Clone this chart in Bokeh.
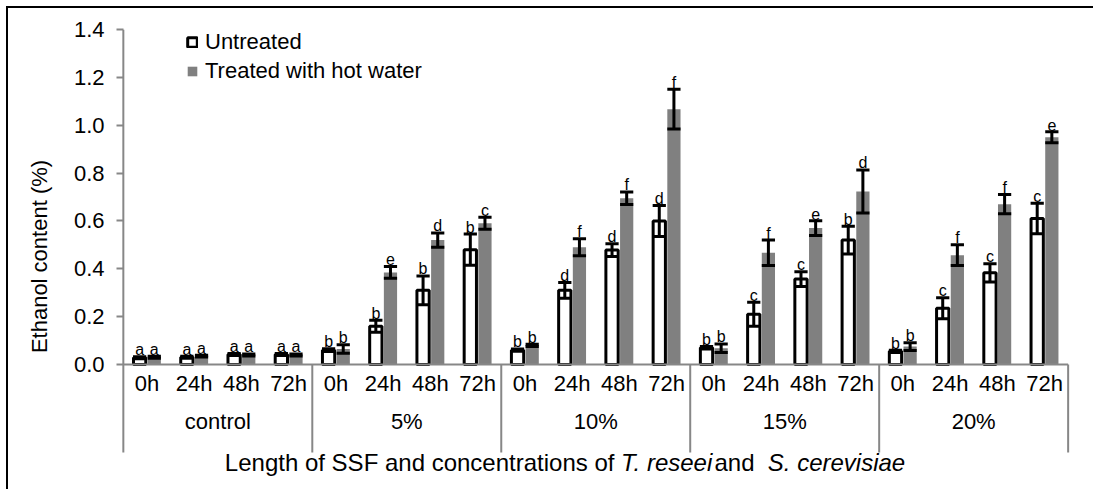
from bokeh.plotting import figure
from bokeh.models import (ColumnDataSource, Range1d, FixedTicker, PrintfTickFormatter, Legend,
                          LegendItem, InlineStyleSheet)
from bokeh.core.properties import value
from bokeh.embed import file_html
from bokeh.resources import INLINE

# ---------------- data ----------------
groups = ["control", "5%", "10%", "15%", "20%"]
times = ["0h", "24h", "48h", "72h"]
series_names = ["Untreated", "Treated with hot water"]

untreated = [0.028, 0.030, 0.042, 0.042,
             0.060, 0.160, 0.310, 0.480,
             0.060, 0.310, 0.478, 0.600,
             0.070, 0.210, 0.357, 0.520,
             0.055, 0.235, 0.383, 0.610]
untreated_err = [0.004, 0.004, 0.004, 0.004,
                 0.006, 0.025, 0.060, 0.065,
                 0.005, 0.033, 0.027, 0.065,
                 0.005, 0.050, 0.031, 0.058,
                 0.005, 0.044, 0.038, 0.064]
untreated_letters = ["a", "a", "a", "a", "b", "b", "b", "b", "b", "d",
                     "d", "d", "b", "c", "c", "b", "b", "c", "c", "c"]

treated = [0.030, 0.035, 0.040, 0.040,
           0.065, 0.385, 0.520, 0.590,
           0.080, 0.490, 0.695, 1.067,
           0.068, 0.467, 0.570, 0.723,
           0.075, 0.457, 0.670, 0.950]
treated_err = [0.004, 0.004, 0.004, 0.004,
               0.018, 0.025, 0.030, 0.025,
               0.005, 0.036, 0.026, 0.083,
               0.018, 0.053, 0.031, 0.090,
               0.016, 0.043, 0.040, 0.023]
treated_letters = ["a", "a", "a", "a", "b", "e", "d", "c", "b", "f",
                   "f", "f", "b", "f", "e", "d", "b", "f", "f", "e"]

y_ticks = [0.0, 0.2, 0.4, 0.6, 0.8, 1.0, 1.2, 1.4]
y_title = "Ethanol content (%)"
x_title_parts = [("Length of SSF and concentrations of ", "normal"),
                 ("T. reseei", "italic"),
                 (" and ", "normal"),
                 ("S. cerevisiae", "italic")]

# ---------------- style ----------------
FONT = "Liberation Sans"
AXIS_GRAY = "#878787"
BAR_GRAY = "#808080"
LABEL_SIZE = 22
TITLE_SIZE = 24
LETTER_SIZE = "16px"

n_t = len(times)
n_cat = len(groups) * n_t
xc = [i + 0.5 for i in range(n_cat)]
OFF = 0.155
BW = 0.28

y_axis_bottom = -0.3678
y_frame_bottom = -0.4973
border_css = InlineStyleSheet(css=":host { box-shadow: inset 6px 6px 0 0 #ffffff, inset 8px 8px 0 0 #000000; }")
p = figure(width=1093, height=489,
           x_range=Range1d(-0.06, n_cat + 0.05), y_range=Range1d(y_frame_bottom, y_ticks[-1]),
           output_backend="svg", toolbar_location=None, x_axis_location=None,
           min_border_left=120, min_border_right=23, min_border_top=29, min_border_bottom=6,
           stylesheets=[border_css])
p.outline_line_color = None
p.grid.visible = False
p.background_fill_color = "white"
p.border_fill_alpha = 0

ya = p.yaxis[0]
ya.ticker = FixedTicker(ticks=y_ticks)
ya.bounds = (y_ticks[0], y_ticks[-1])
ya.formatter = PrintfTickFormatter(format="%.1f")
ya.axis_line_color = None
ya.major_tick_line_color = AXIS_GRAY
ya.major_tick_line_width = 2
ya.major_tick_out = 4
ya.major_tick_in = 3
ya.minor_tick_line_color = None
ya.major_label_standoff = 12
ya.major_label_text_font = FONT
ya.major_label_text_font_size = f"{LABEL_SIZE}px"
ya.major_label_text_color = "black"
ya.axis_label = y_title
ya.axis_label_text_font = FONT
ya.axis_label_text_font_size = f"{LABEL_SIZE}px"
ya.axis_label_text_font_style = "normal"
ya.axis_label_text_color = "black"
ya.axis_label_standoff = 19

# ---------------- bars ----------------
src = ColumnDataSource(dict(
    xu=[x - OFF for x in xc], xt=[x + OFF for x in xc],
    u=untreated, t=treated,
    u_lo=[m - e for m, e in zip(untreated, untreated_err)],
    u_hi=[m + e for m, e in zip(untreated, untreated_err)],
    t_lo=[m - e for m, e in zip(treated, treated_err)],
    t_hi=[m + e for m, e in zip(treated, treated_err)],
    xu0=[x - OFF - BW / 2 for x in xc], xu1=[x - OFF + BW / 2 for x in xc],
    xt0=[x + OFF - BW / 2 for x in xc], xt1=[x + OFF + BW / 2 for x in xc],
    ul=untreated_letters, tl=treated_letters,
))

ub = p.vbar(x="xu", top="u", bottom=0, width=BW - 0.02, source=src,
            fill_color="white", line_color="black", line_width=3)
tb = p.vbar(x="xt", top="t", bottom=0, width=BW, source=src,
            fill_color=BAR_GRAY, line_color=None)

# axis lines: y axis (extends below zero), x axis at 0, group separators
p.segment(x0=[0], x1=[0], y0=[y_axis_bottom], y1=[y_ticks[-1]], line_color=AXIS_GRAY, line_width=2)
p.segment(x0=[0], x1=[n_cat], y0=[0], y1=[0], line_color=AXIS_GRAY, line_width=2)
sep_x = [g * n_t for g in range(1, len(groups) + 1)]
p.segment(x0=sep_x, x1=sep_x, y0=[0] * len(sep_x), y1=[y_axis_bottom] * len(sep_x),
          line_color=AXIS_GRAY, line_width=2)

# error bars
for lo, hi, x0, x1, xm in (("u_lo", "u_hi", "xu0", "xu1", "xu"), ("t_lo", "t_hi", "xt0", "xt1", "xt")):
    p.segment(x0=xm, x1=xm, y0=lo, y1=hi, source=src, line_color="black", line_width=3)
    p.segment(x0=x0, x1=x1, y0=hi, y1=hi, source=src, line_color="black", line_width=3)
    p.segment(x0=x0, x1=x1, y0=lo, y1=lo, source=src, line_color="black", line_width=3)

# significance letters
for xm, hi, lt in (("xu", "u_hi", "ul"), ("xt", "t_hi", "tl")):
    p.text(x=xm, y=hi, text=lt, source=src, text_align="center", text_baseline="alphabetic",
           y_offset=-7, text_font=value(FONT), text_font_size=LETTER_SIZE, text_color="black")

# category labels
lab_src = ColumnDataSource(dict(x=xc, t=[t for g in groups for t in times]))
p.text(x="x", y=-0.079, text="t", source=lab_src, text_align="center", text_baseline="middle",
       text_font=value(FONT), text_font_size=f"{LABEL_SIZE}px", text_color="black")
grp_src = ColumnDataSource(dict(x=[g * n_t + n_t / 2 for g in range(len(groups))], t=groups))
p.text(x="x", y=-0.238, text="t", source=grp_src, text_align="center", text_baseline="middle",
       text_font=value(FONT), text_font_size=f"{LABEL_SIZE}px", text_color="black")

# x title with italic species names (Arial metrics for placement)
W = {" ": 278, ".": 278, "L": 556, "S": 667, "F": 611, "T": 611, "a": 556, "c": 500,
     "d": 556, "e": 556, "f": 278, "g": 556, "h": 556, "i": 222, "n": 556, "o": 556,
     "r": 333, "s": 500, "t": 278, "v": 500}
widths = [sum(W.get(ch, 556) for ch in s) * TITLE_SIZE / 1000 for s, _ in x_title_parts]
total = sum(widths)
offs = []
acc = -total / 2
for w in widths:
    offs.append(acc)
    acc += w
title_src = ColumnDataSource(dict(x=[9.35] * len(x_title_parts), off=offs,
                                  t=[s for s, _ in x_title_parts],
                                  st=[st for _, st in x_title_parts]))
p.text(x="x", y=-0.41, x_offset="off", text="t", text_font_style="st", source=title_src,
       text_align="left", text_baseline="middle",
       text_font=value(FONT), text_font_size=f"{TITLE_SIZE}px", text_color="black")

# legend
legend = Legend(items=[LegendItem(label=series_names[0], renderers=[ub]),
                       LegendItem(label=series_names[1], renderers=[tb])],
                location=(66, 399), orientation="vertical",
                glyph_width=12, glyph_height=12, label_height=25, spacing=3,
                label_standoff=7, padding=0, margin=0,
                border_line_color=None, background_fill_alpha=0,
                label_text_font=FONT, label_text_font_size=f"{LABEL_SIZE}px",
                label_text_color="black")
p.add_layout(legend)

open("out.html", "w").write(file_html(p, INLINE))
